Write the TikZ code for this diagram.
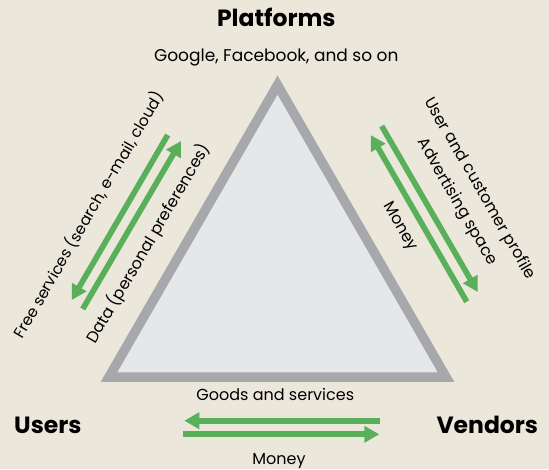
\documentclass[tikz,border=0pt]{standalone}
\usepackage{fontspec}
\setmainfont{Poppins}
\usetikzlibrary{arrows.meta}
\definecolor{fondo}{RGB}{236,231,219}
\definecolor{verde}{RGB}{90,176,90}
\definecolor{gris}{RGB}{167,168,171}
\definecolor{grisclaro}{RGB}{230,231,233}

\begin{document}
\begin{tikzpicture}[x=1pt, y=-1pt,
    flow/.style={draw=verde, line width=5.7pt, -{Triangle[length=15pt,width=16pt]}},
    lab/.style={inner sep=0pt, font=\fontsize{16}{26}\selectfont},
    head/.style={inner sep=0pt, font=\fontsize{23.5}{28}\selectfont\bfseries}]
  \fill[fondo] (0,0) rectangle (549,469);
  \useasboundingbox (0,0) rectangle (549,469);

  % triangulo
  \coordinate (T) at (277.5,85);
  \coordinate (L) at (109,377);
  \coordinate (R) at (446,377);
  \draw[gris, fill=grisclaro, line width=9.5pt] (T) -- (L) -- (R) -- cycle;

  \node[head, anchor=base] (P) at (276.3,26.7) {Platforms};
  \node[lab, anchor=base, font=\fontsize{17}{20}\selectfont] (G) at (276.3,61) {Google, Facebook, and so on};
  \node[head, anchor=base west] (U) at (14,433) {Users};
  \node[head, anchor=base east] (V) at (538.3,433) {Vendors};

  % extremos de las flechas
  \coordinate (fs1) at (167.7,135);
  \coordinate (fs2) at (71.7,300);
  \coordinate (da1) at (82.7,309);
  \coordinate (da2) at (181,141);
  \coordinate (ad1) at (381.7,126);
  \coordinate (ad2) at (477.7,292);
  \coordinate (mo1) at (466.7,301.7);
  \coordinate (mo2) at (370.7,135);
  \coordinate (gs1) at (380,420.7);
  \coordinate (gs2) at (184.3,420.7);
  \coordinate (pa1) at (182.7,434.3);
  \coordinate (pa2) at (379.3,434.3);

  \draw[flow] (fs1) -- node[lab, pos=0.57, sloped, above=17pt, font=\fontsize{15.5}{19}\selectfont] (FS) {Free services (search, e-mail, cloud)} (fs2);
  \draw[flow] (da1) -- node[lab, pos=0.46, sloped, below=11pt] (DA) {Data (personal preferences)} (da2);
  \draw[flow] (ad1) -- node[lab, pos=0.54, sloped, above=16pt, align=center] (AD) {User and customer profile\\Advertising space} (ad2);
  \draw[flow] (mo1) -- node[lab, pos=0.51, sloped, below=10pt] (MO) {Money} (mo2);
  \draw[flow] (gs1) -- node[lab, pos=0.535, above=17.7pt] (GS) {Goods and services} (gs2);
  \draw[flow] (pa1) -- node[lab, pos=0.49, below=16.5pt] (PA) {Money} (pa2);
\end{tikzpicture}
\end{document}
